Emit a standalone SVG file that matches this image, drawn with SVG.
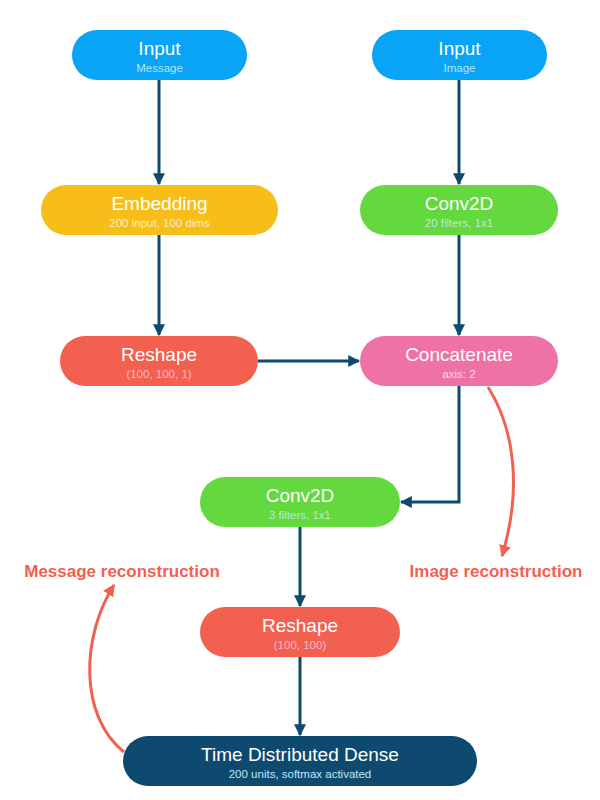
<svg xmlns="http://www.w3.org/2000/svg" width="600" height="800" viewBox="0 0 600 800">
<defs>
<style>
.t{font-family:"Liberation Sans",Arial,sans-serif;font-size:19px;fill:#fff;text-anchor:middle}
.s{font-family:"Liberation Sans",Arial,sans-serif;font-size:11.5px;fill:#fff;fill-opacity:0.72;text-anchor:middle}
.e{stroke:#0d4a6e;stroke-width:3;fill:none}
.r{stroke:#f2614f;stroke-width:3;fill:none}
.lbl{font-family:"Liberation Sans",Arial,sans-serif;font-size:17px;font-weight:bold;fill:#f2614f;text-anchor:middle}
</style>
<marker id="ah" viewBox="0 0 10 10" refX="9" refY="5" markerWidth="4" markerHeight="4" markerUnits="strokeWidth" orient="auto">
<path d="M0,0 L10,5 L0,10 z" fill="#0d4a6e"/>
</marker>
<marker id="ar" viewBox="0 0 10 10" refX="9" refY="5" markerWidth="4" markerHeight="4" markerUnits="strokeWidth" orient="auto">
<path d="M0,0 L10,5 L0,10 z" fill="#f2614f"/>
</marker>
</defs>
<rect width="600" height="800" fill="#fff"/>
<g id="connectors">
<line class="e" x1="159" y1="80" x2="159" y2="184" marker-end="url(#ah)"/>
<line class="e" x1="459" y1="80" x2="459" y2="184" marker-end="url(#ah)"/>
<line class="e" x1="159" y1="235" x2="159" y2="335" marker-end="url(#ah)"/>
<line class="e" x1="459" y1="235" x2="459" y2="335" marker-end="url(#ah)"/>
<line class="e" x1="258" y1="361" x2="359" y2="361" marker-end="url(#ah)"/>
<polyline class="e" points="459,386 459,502 401,502" marker-end="url(#ah)"/>
<line class="e" x1="300" y1="527" x2="300" y2="606" marker-end="url(#ah)"/>
<line class="e" x1="300" y1="657" x2="300" y2="735" marker-end="url(#ah)"/>
<path class="r" d="M488,387 C515,430 522,490 502,556" marker-end="url(#ar)"/>
<path class="r" d="M124,752 C78,715 82,635 114,585" marker-end="url(#ar)"/>
</g>
<g id="input-message">
<rect x="72" y="30" width="175" height="50" rx="25" fill="#09a4f5"/>
<text class="t" x="159.5" y="55">Input</text>
<text class="s" x="159.5" y="72">Message</text>
</g>
<g id="input-image">
<rect x="372" y="30" width="175" height="50" rx="25" fill="#09a4f5"/>
<text class="t" x="459.5" y="55">Input</text>
<text class="s" x="459.5" y="72">Image</text>
</g>
<g id="embedding">
<rect x="41" y="185" width="237" height="50" rx="25" fill="#f7be1a"/>
<text class="t" x="159.5" y="210">Embedding</text>
<text class="s" x="159.5" y="227">200 input, 100 dims</text>
</g>
<g id="conv2d-top">
<rect x="360" y="185" width="198" height="50" rx="25" fill="#63d93f"/>
<text class="t" x="459" y="210">Conv2D</text>
<text class="s" x="459" y="227" style="fill:#cfe8f8;fill-opacity:0.85">20 filters, 1x1</text>
</g>
<g id="reshape-top">
<rect x="60" y="336" width="198" height="50" rx="25" fill="#f2614f"/>
<text class="t" x="159" y="361">Reshape</text>
<text class="s" x="159" y="378" style="fill:#f7b6cc;fill-opacity:1">(100, 100, 1)</text>
</g>
<g id="concatenate">
<rect x="360" y="336" width="198" height="50" rx="25" fill="#ef72a6"/>
<text class="t" x="459" y="361">Concatenate</text>
<text class="s" x="459" y="378">axis: 2</text>
</g>
<g id="conv2d-bottom">
<rect x="200" y="477" width="200" height="50" rx="25" fill="#63d93f"/>
<text class="t" x="300" y="502">Conv2D</text>
<text class="s" x="300" y="519" style="fill:#cfe8f8;fill-opacity:0.85">3 filters, 1x1</text>
</g>
<g id="reshape-bottom">
<rect x="200" y="607" width="200" height="50" rx="25" fill="#f2614f"/>
<text class="t" x="300" y="632">Reshape</text>
<text class="s" x="300" y="649" style="fill:#f7b6cc;fill-opacity:1">(100, 100)</text>
</g>
<g id="time-distributed-dense">
<rect x="123" y="736" width="354" height="50" rx="25" fill="#0e4a6f"/>
<text class="t" x="300" y="761">Time Distributed Dense</text>
<text class="s" x="300" y="778" style="fill:#bfe6f7;fill-opacity:1">200 units, softmax activated</text>
</g>
<g id="labels">
<text class="lbl" x="122" y="577">Message reconstruction</text>
<text class="lbl" x="496" y="577">Image reconstruction</text>
</g>
</svg>
